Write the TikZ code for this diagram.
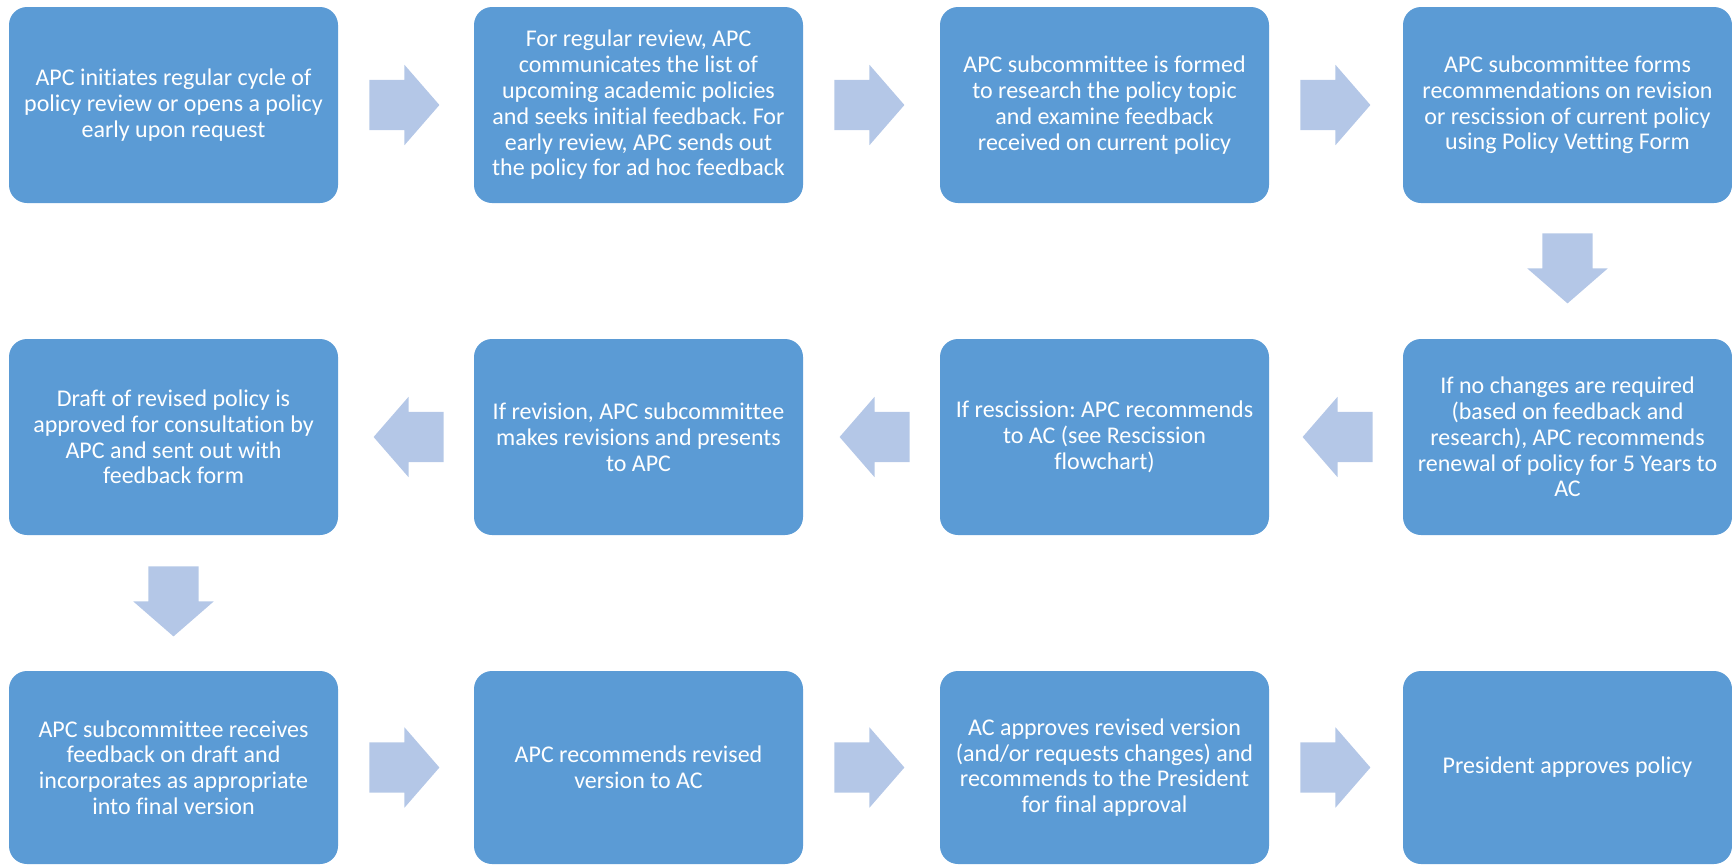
\documentclass[tikz,border=0pt]{standalone}
\usepackage{fontspec}
\setmainfont{Carlito}[Ligatures=NoCommon]
\usetikzlibrary{shapes.arrows,calc}
\definecolor{boxblue}{HTML}{5B9BD5}
\definecolor{arrowblue}{HTML}{B4C7E7}
\tikzset{
    stepbox/.style={rectangle, rounded corners=18pt, fill=boxblue, text=white,
        minimum width=329pt, minimum height=196pt, inner sep=0pt, align=center,
        font=\fontsize{24}{25.8}\selectfont},
    blockarrow/.style={single arrow, fill=arrowblue, anchor=tail,
        minimum height=70pt, single arrow head extend=15pt,
        single arrow head indent=0pt, single arrow tip angle=98},
    flatarrow/.style={blockarrow, inner xsep=0pt, inner ysep=25pt, shape border rotate=#1},
    downarrow/.style={blockarrow, inner xsep=25pt, inner ysep=0pt, shape border rotate=270}
}
\frenchspacing
\begin{document}
\begin{tikzpicture}[x=1pt, y=-1pt]
    \useasboundingbox (0,0) rectangle (1732,865);

    % Row 1
    \node [stepbox] (s1) at (173.5,105) {APC initiates regular cycle of\\policy review or opens a policy\\early upon request};
    \node [stepbox] (s2) at (638.5,105) {For regular review, APC\\communicates the list of\\upcoming academic policies\\and seeks initial feedback. For\\early review, APC sends out\\the policy for ad hoc feedback};
    \node [stepbox] (s3) at (1104.5,105) {APC subcommittee is formed\\to research the policy topic\\and examine feedback\\received on current policy};
    \node [stepbox] (s4) at (1567.5,105) {APC subcommittee forms\\recommendations on revision\\or rescission of current policy\\using Policy Vetting Form};

    % Row 2
    \node [stepbox] (s5) at (1567.5,437) {If no changes are required\\(based on feedback and\\research), APC recommends\\renewal of policy for 5 Years to\\AC};
    \node [stepbox] (s6) at (1104.5,437) {If rescission: APC recommends\\to AC (see Rescission\\flowchart)};
    \node [stepbox] (s7) at (638.5,437) {If revision, APC subcommittee\\makes revisions and presents\\to APC};
    \node [stepbox] (s8) at (173.5,437) {Draft of revised policy is\\approved for consultation by\\APC and sent out with\\feedback form};

    % Row 3
    \node [stepbox, minimum height=193pt] (s9) at (173.5,767.5) {APC subcommittee receives\\feedback on draft and\\incorporates as appropriate\\into final version};
    \node [stepbox, minimum height=193pt] (s10) at (638.5,767.5) {APC recommends revised\\version to AC};
    \node [stepbox, minimum height=193pt] (s11) at (1104.5,767.5) {AC approves revised version\\(and/or requests changes) and\\recommends to the President\\for final approval};
    \node [stepbox, minimum height=193pt] (s12) at (1567.5,767.5) {President approves policy};

    % Arrows, placed by their tail
    \node [flatarrow=0] (a1) at ($(s1.east)+(31,0)$) {};
    \node [flatarrow=0] (a2) at ($(s2.east)+(31,0)$) {};
    \node [flatarrow=0] (a3) at ($(s3.east)+(31,0)$) {};
    \node [downarrow] (a4) at ($(s4.south)+(0,30)$) {};
    \node [flatarrow=180] (a5) at ($(s5.west)+(-30,0)$) {};
    \node [flatarrow=180] (a6) at ($(s6.west)+(-30,0)$) {};
    \node [flatarrow=180] (a7) at ($(s7.west)+(-30,0)$) {};
    \node [downarrow] (a8) at ($(s8.south)+(0,31)$) {};
    \node [flatarrow=0] (a9) at ($(s9.east)+(31,0)$) {};
    \node [flatarrow=0] (a10) at ($(s10.east)+(31,0)$) {};
    \node [flatarrow=0] (a11) at ($(s11.east)+(31,0)$) {};
\end{tikzpicture}
\end{document}
